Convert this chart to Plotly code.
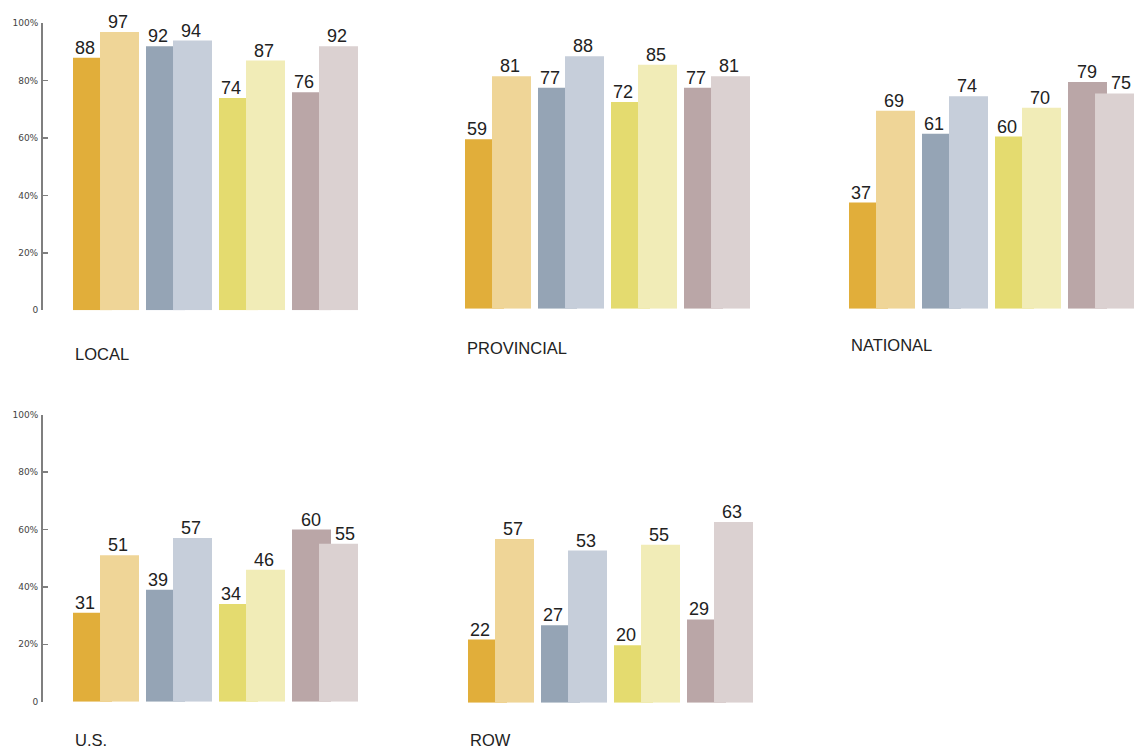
import plotly.graph_objects as go

# ---------------- data ----------------
panel_names = ["LOCAL", "PROVINCIAL", "NATIONAL", "U.S.", "ROW"]

local_dark = [88, 92, 74, 76]
local_light = [97, 94, 87, 92]
provincial_dark = [59, 77, 72, 77]
provincial_light = [81, 88, 85, 81]
national_dark = [37, 61, 60, 79]
national_light = [69, 74, 70, 75]
us_dark = [31, 39, 34, 60]
us_light = [51, 57, 46, 55]
row_dark = [22, 27, 20, 29]
row_light = [57, 53, 55, 63]

dark_colors = ["#E1AE3A", "#95A4B5", "#E4DB6F", "#BAA6A7"]
light_colors = ["#EFD597", "#C6CEDA", "#F1ECB7", "#DBD1D1"]

tick_vals = [0, 20, 40, 60, 80, 100]
tick_text = ["0", "20%", "40%", "60%", "80%", "100%"]

panels = [
    (panel_names[0], local_dark, local_light),
    (panel_names[1], provincial_dark, provincial_light),
    (panel_names[2], national_dark, national_light),
    (panel_names[3], us_dark, us_light),
    (panel_names[4], row_dark, row_light),
]

# ---------------- layout geometry (pixels) ----------------
W, H = 1139, 750
# left edge px, baseline px, show y axis, label x px, label y px
geom = [
    (43, 310.3, True, 73, 354),
    (435, 308.7, False, 465, 348),
    (819, 308.7, False, 849, 345),
    (43, 701.7, True, 73, 740),
    (438, 702.7, False, 468, 740),
]
UNIT = 73.0          # px per group
X0, X1 = -0.863, 3.5
PX_PER_VAL = 2.87
OFF = 0.185
BW = 0.534

fig = go.Figure()
layout = dict(
    width=W, height=H,
    margin=dict(l=0, r=0, t=0, b=0, pad=0, autoexpand=False),
    paper_bgcolor="white", plot_bgcolor="white",
    barmode="overlay", showlegend=False,
)
annotations = []

for k, ((name, dark, light), (left, base, show_y, lx, ly)) in enumerate(zip(panels, geom)):
    sfx = "" if k == 0 else str(k + 1)
    xa, ya = "x" + sfx, "y" + sfx
    idx = list(range(len(dark)))
    fig.add_trace(go.Bar(
        x=[i - OFF for i in idx], y=dark, width=BW,
        marker=dict(color=dark_colors, line=dict(width=0)),
        xaxis=xa, yaxis=ya, hoverinfo="skip",
    ))
    fig.add_trace(go.Bar(
        x=[i + OFF for i in idx], y=light, width=BW,
        marker=dict(color=light_colors, line=dict(width=0)),
        xaxis=xa, yaxis=ya, hoverinfo="skip",
    ))
    right = left + (X1 - X0) * UNIT
    top = base - 100 * PX_PER_VAL
    layout["xaxis" + sfx] = dict(
        domain=[left / W, right / W], range=[X0, X1], visible=False,
        anchor=ya, fixedrange=True, automargin=False,
    )
    yax = dict(
        domain=[1 - base / H, 1 - top / H], range=[0, 100], anchor=xa,
        showgrid=False, zeroline=False, fixedrange=True, automargin=False,
    )
    if show_y:
        yax.update(
            showline=True, linecolor="#7F7F7F", linewidth=2,
            ticks="inside", ticklen=5, tickwidth=1.5, tickcolor="#7F7F7F",
            tickvals=tick_vals, ticktext=tick_text,
            tickfont=dict(family="DejaVu Sans", size=9, color="#444444"),
            ticklabelstandoff=1,
        )
    else:
        yax.update(visible=False)
    layout["yaxis" + sfx] = yax

    # value labels
    for i in idx:
        d, l = dark[i], light[i]
        if d > l:
            dx, lxo = i - 0.19, i + 0.28
        else:
            dx, lxo = i - 0.288, i + 0.158
        for xv, yv in ((dx, d), (lxo, l)):
            annotations.append(dict(
                x=xv, y=yv, xref=xa, yref=ya, text=str(yv), showarrow=False,
                xanchor="center", yanchor="bottom", borderpad=0, yshift=-1,
                font=dict(family="Liberation Sans, Arial", size=18, color="#222222"),
            ))
    # panel label
    annotations.append(dict(
        x=lx / W, y=1 - ly / H, xref="paper", yref="paper", text=name,
        showarrow=False, xanchor="left", yanchor="middle",
        font=dict(family="Liberation Sans, Arial", size=16.5, color="#222222"),
    ))

layout["annotations"] = annotations
fig.update_layout(**layout)
fig.write_html(
    "out.html",
    config={"displayModeBar": False, "staticPlot": True},
    post_script="document.documentElement.style.margin='0';document.body.style.margin='0';"
                "document.body.style.overflow='hidden';",
)
